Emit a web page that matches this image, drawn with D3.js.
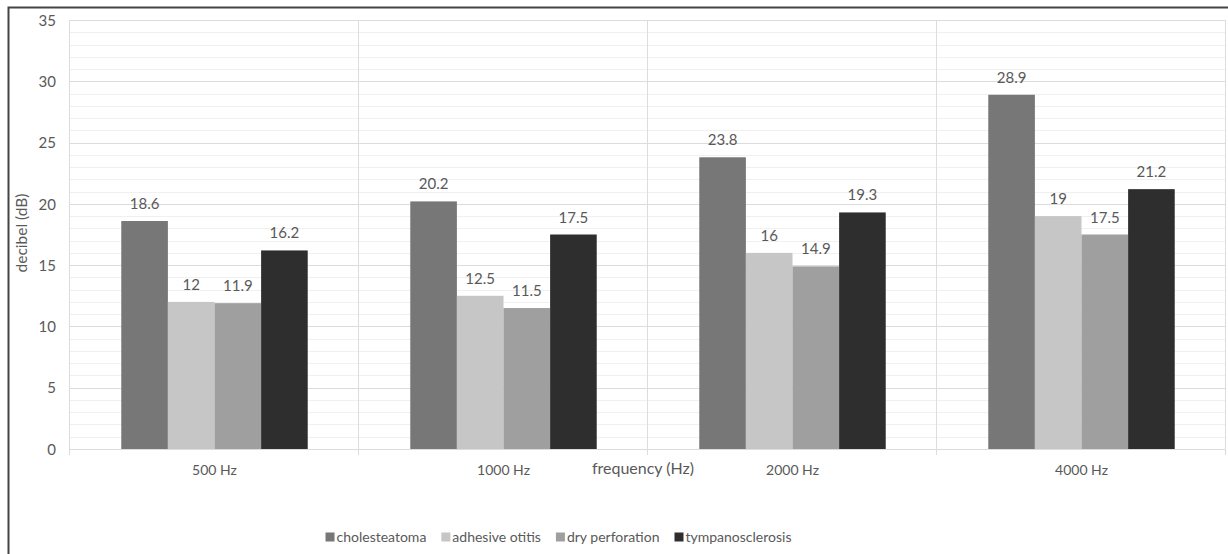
<!DOCTYPE html>
<html>
<head>
<meta charset="utf-8">
<script src="https://cdn.jsdelivr.net/npm/d3@7"></script>
<style>
    body { margin: 0; background: #fff; }
    svg text { font-family: Lato, "Open Sans", sans-serif; fill: #595959; }
</style>
</head>
<body>
<svg id="chart" width="1228" height="554"></svg>
<script>
// chart data
var categories = ["500 Hz", "1000 Hz", "2000 Hz", "4000 Hz"];
var series_names = ["cholesteatoma", "adhesive otitis", "dry perforation", "tympanosclerosis"];
var series_colors = ["#777777", "#c6c6c6", "#9f9f9f", "#2e2e2e"];
var cholesteatoma = [18.6, 20.2, 23.8, 28.9];
var adhesive_otitis = [12, 12.5, 16, 19];
var dry_perforation = [11.9, 11.5, 14.9, 17.5];
var tympanosclerosis = [16.2, 17.5, 19.3, 21.2];
var y_ticks = [0, 5, 10, 15, 20, 25, 30, 35];

var all_series = [cholesteatoma, adhesive_otitis, dry_perforation, tympanosclerosis];

var svg = d3.select("#chart");
var pad_left = 70, pad_right = 2, pad_top = 20, pad_bot = 105;
var width = 1228, height = 554;

// outer frame (left + top visible)
svg.append("path")
        .attr("d", "M8.5,554 V7.5 H1228")
        .attr("fill", "none")
        .attr("stroke", "#444")
        .attr("stroke-width", 2);

var x0 = d3.scaleBand().domain(categories).range([pad_left, width - pad_right]);
var x1 = d3.scaleBand().domain(series_names).range([0, x0.bandwidth()]).paddingOuter(1.1);
var y = d3.scaleLinear().domain([0, 35]).range([height - pad_bot, pad_top]);

// minor grid
svg.append("g").selectAll("line")
        .data(d3.range(0, 36, 1).filter(function (d) { return d % 5 != 0; }))
        .enter().append("line")
        .attr("x1", pad_left).attr("x2", width - pad_right)
        .attr("y1", function (d) { return Math.round(y(d)) + 0.5; })
        .attr("y2", function (d) { return Math.round(y(d)) + 0.5; })
        .attr("stroke", "#f0f0f0");
// major grid
svg.append("g").selectAll("line")
        .data(y_ticks)
        .enter().append("line")
        .attr("x1", pad_left).attr("x2", width - pad_right)
        .attr("y1", function (d) { return Math.round(y(d)) + 0.5; })
        .attr("y2", function (d) { return Math.round(y(d)) + 0.5; })
        .attr("stroke", "#dcdcdc");
// vertical category lines
var bounds = categories.map(function (c) { return x0(c); }).concat([width - pad_right]);
svg.append("g").selectAll("line")
        .data(bounds)
        .enter().append("line")
        .attr("x1", function (d) { return Math.round(d) - 0.5; })
        .attr("x2", function (d) { return Math.round(d) - 0.5; })
        .attr("y1", pad_top).attr("y2", y(0) + 6)
        .attr("stroke", "#dcdcdc");

// y axis labels
var yAxis = d3.axisLeft(y).tickValues(y_ticks).tickSize(0).tickPadding(0);
var gy = svg.append("g")
        .attr("transform", "translate(" + (pad_left - 14) + ",0)")
        .call(yAxis);
gy.select(".domain").remove();
gy.selectAll("text").style("font-size", "15px").attr("dy", "0.35em");

svg.append("text")
        .attr("transform", "rotate(-90)")
        .attr("x", -233)
        .attr("y", 27)
        .style("text-anchor", "middle")
        .style("font-size", "15.5px")
        .text("decibel (dB)");

// bars
for (var s = 0; s < all_series.length; s++) {
    var g = svg.append("g");
    g.selectAll("rect")
            .data(all_series[s])
            .enter().append("rect")
            .attr("x", function (d, i) { return x0(categories[i]) + x1(series_names[s]); })
            .attr("width", x1.bandwidth())
            .attr("y", function (d) { return y(d); })
            .attr("height", function (d) { return y(0) - y(d); })
            .attr("fill", series_colors[s]);
    g.selectAll("text")
            .data(all_series[s])
            .enter().append("text")
            .attr("x", function (d, i) { return x0(categories[i]) + x1(series_names[s]) + x1.bandwidth() / 2; })
            .attr("y", function (d) { return y(d) - 12; })
            .style("text-anchor", "middle")
            .style("font-size", "15px")
            .text(function (d) { return d; });
}

// x axis labels
var xAxis = d3.axisBottom(x0).tickSize(0).tickPadding(0);
var gx = svg.append("g")
        .attr("transform", "translate(0," + (y(0) + 26) + ")")
        .call(xAxis);
gx.select(".domain").remove();
gx.selectAll("text").style("font-size", "14px").attr("dy", "0");

svg.append("text")
        .attr("x", 643)
        .attr("y", 474)
        .style("text-anchor", "middle")
        .style("font-size", "16px")
        .text("frequency (Hz)");

// legend, laid out from measured text widths and centred
var legend = svg.append("g");
var leg = legend.selectAll("g")
        .data(series_names)
        .enter().append("g");
leg.append("rect")
        .attr("x", 0).attr("y", -4.5)
        .attr("width", 9).attr("height", 9)
        .attr("fill", function (d, i) { return series_colors[i]; });
leg.append("text")
        .attr("x", 11)
        .attr("dy", "0.35em")
        .style("font-size", "14px")
        .text(function (d) { return d; });
var pos = 0;
var offsets = [];
leg.each(function () {
    offsets.push(pos);
    pos += 11 + d3.select(this).select("text").node().getComputedTextLength() + 15;
});
var total = pos - 15;
leg.attr("transform", function (d, i) { return "translate(" + offsets[i] + ",0)"; });
legend.attr("transform", "translate(" + (558.5 - total / 2) + ",537)");
</script>
</body>
</html>
